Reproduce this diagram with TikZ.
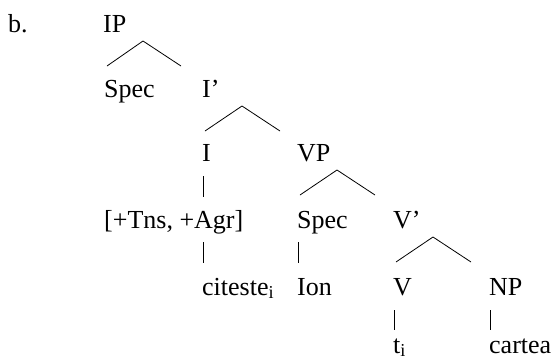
\documentclass[tikz,border=0pt]{standalone}
\usepackage{fontspec}
\setmainfont{Liberation Serif}
\usetikzlibrary{calc}
\begin{document}
\begin{tikzpicture}[x=1pt,y=-1pt,
  lab/.style={anchor=base west,inner sep=0pt,font=\fontsize{26}{30}\selectfont},
  edge/.style={line width=0.8pt}]
\useasboundingbox (0,0) rectangle (555,362);
\node[lab] (b) at (8,32) {b.};
\node[lab] (IP) at (103,32) {IP};
\node[lab] (Spec1) at (104,97) {Spec};
\node[lab] (Ibar) at (202,97) {I’};
\node[lab] (I) at (202,161) {I};
\node[lab] (VP) at (297,161) {VP};
\node[lab] (Infl) at (104,228) {[+Tns, +Agr]};
\node[lab] (Spec2) at (297,228) {Spec};
\node[lab] (Vbar) at (393,228) {V’};
\node[lab] (cit) at (202,295) {citeste\textsubscript{i}};
\node[lab] (Ion) at (297,295) {Ion};
\node[lab] (V) at (393,295) {V};
\node[lab] (NP) at (489,295) {NP};
\node[lab] (t) at (393,353) {t\textsubscript{i}};
\node[lab] (cartea) at (489,353) {cartea};
% branches
\newcommand\mybranch[3]{%
  \draw[edge] ($(#2.base west |- #1.base)+(3,34)$) -- ($(#1.base west)+(40,9)$) -- ($(#1.base west)+(78,34)$);}
\mybranch{IP}{Spec1}{Ibar}
\mybranch{Ibar}{I}{VP}
\mybranch{VP}{Spec2}{Vbar}
\mybranch{Vbar}{V}{NP}
% bars
\draw[edge] ($(I.base west)+(1,15)$) -- ($(I.base west |- Infl.base)+(1,-31)$);
\draw[edge] ($(cit.base west |- Infl.base)+(1,14)$) -- ($(cit.base west)+(1,-32)$);
\draw[edge] ($(Spec2.base west)+(1,14)$) -- ($(Ion.base west)+(1,-32)$);
\draw[edge] ($(V.base west)+(1,15)$) -- ($(t.base west)+(1,-23)$);
\draw[edge] ($(NP.base west)+(1,15)$) -- ($(cartea.base west)+(1,-23)$);
\end{tikzpicture}
\end{document}
